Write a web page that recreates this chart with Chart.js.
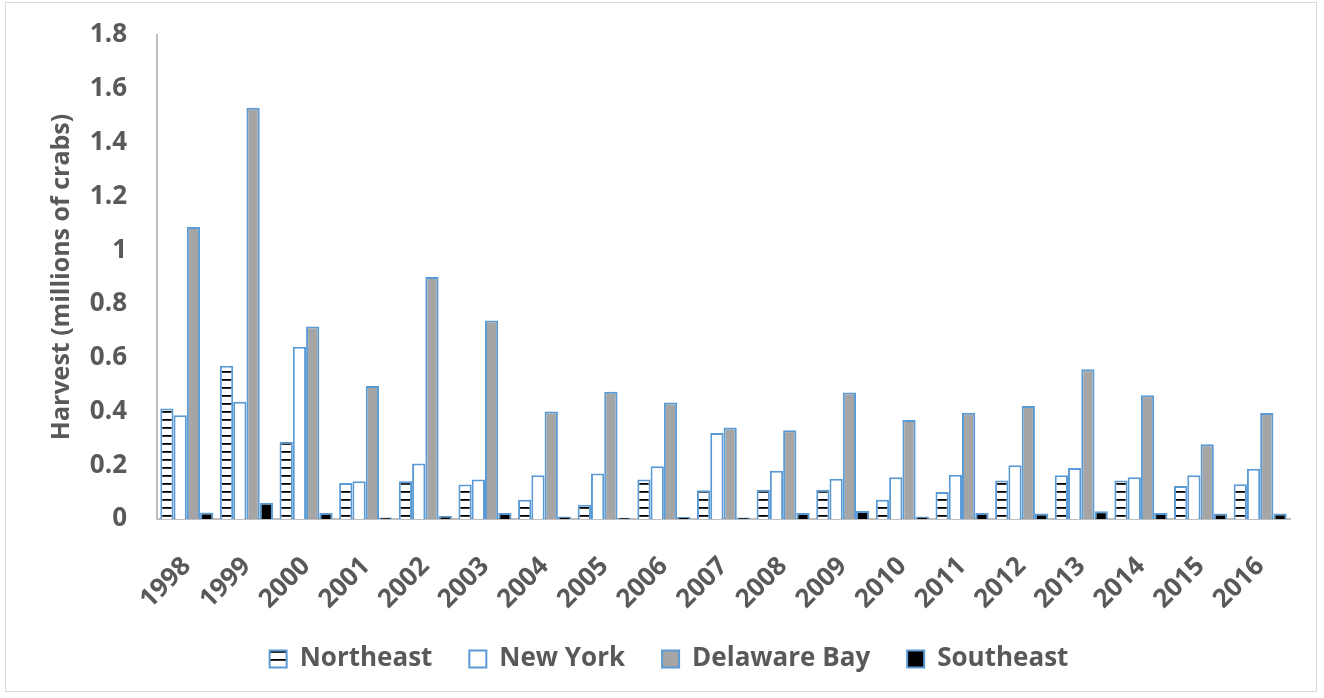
<!DOCTYPE html>
<html>
<head>
<meta charset="utf-8">
<script src="https://cdn.jsdelivr.net/npm/chart.js@4"></script>
<style>
  body { margin: 0; background: #fff; }
  #frame { position: absolute; left: 5px; top: 2px; width: 1310px; height: 688px; border: 1px solid #d9d9d9; }
  #wrap { position: absolute; left: 0; top: 0; width: 1324px; height: 698px; }
</style>
</head>
<body>
<div id="frame"></div>
<div id="wrap"><canvas id="harvest" width="1324" height="698"></canvas></div>
<script>
var years = ["1998", "1999", "2000", "2001", "2002", "2003", "2004", "2005", "2006", "2007",
  "2008", "2009", "2010", "2011", "2012", "2013", "2014", "2015", "2016"];
var northeast = [0.411, 0.570, 0.287, 0.134, 0.140, 0.128, 0.072, 0.053, 0.147, 0.107,
  0.109, 0.109, 0.072, 0.100, 0.143, 0.163, 0.143, 0.123, 0.129];
var newYork = [0.386, 0.436, 0.641, 0.140, 0.206, 0.147, 0.163, 0.169, 0.196, 0.320,
  0.179, 0.150, 0.155, 0.165, 0.200, 0.190, 0.155, 0.163, 0.187];
var delawareBay = [1.086, 1.529, 0.716, 0.495, 0.900, 0.738, 0.400, 0.473, 0.433, 0.340,
  0.330, 0.470, 0.368, 0.395, 0.420, 0.557, 0.460, 0.278, 0.394];
var southeast = [0.024, 0.060, 0.022, 0.006, 0.011, 0.022, 0.009, 0.005, 0.007, 0.006,
  0.022, 0.030, 0.009, 0.022, 0.020, 0.029, 0.022, 0.020, 0.020];

var azul = "#5B9BD5";
var gris = "#595959";
var fuente = "'Open Sans'";

// rayas horizontales para Northeast
function rayas() {
  var c = document.createElement("canvas");
  c.width = 8;
  c.height = 8;
  var g = c.getContext("2d");
  g.fillStyle = "#ffffff";
  g.fillRect(0, 0, 8, 8);
  g.fillStyle = "#000000";
  g.fillRect(0, 3, 8, 1.8);
  return document.getElementById("harvest").getContext("2d").createPattern(c, "repeat");
}

// leyenda un poco a la derecha, y que las etiquetas del eje x no se corten
var ajustes = {
  id: "ajustes",
  afterLayout: function (chart) {
    chart.legend.left += 24;
    chart.legend.right += 24;
    chart.scales.x.bottom = chart.height;
  },
};

var ctx = document.getElementById("harvest").getContext("2d");
var chart = new Chart(ctx, {
  type: "bar",
  data: {
    labels: years,
    datasets: [
      { label: "Northeast", data: northeast, backgroundColor: rayas(), borderColor: azul, borderWidth: 2 },
      { label: "New York", data: newYork, backgroundColor: "#ffffff", borderColor: azul, borderWidth: 2 },
      { label: "Delaware Bay", data: delawareBay, backgroundColor: "#A5A5A5", borderColor: azul, borderWidth: 2 },
      { label: "Southeast", data: southeast, backgroundColor: "#000000", borderColor: azul, borderWidth: 2 },
    ],
  },
  options: {
    responsive: false,
    animation: false,
    datasets: { bar: { categoryPercentage: 0.89, barPercentage: 1.0 } },
    layout: { padding: { top: 35, right: 34, left: 0, bottom: 16 } },
    scales: {
      x: {
        grid: { display: false, drawTicks: false },
        border: { display: true, color: "#BFBFBF", width: 2 },
        ticks: {
          color: gris,
          font: { family: fuente, weight: "bold", size: 26 },
          maxRotation: 45,
          minRotation: 45,
          padding: 32,
        },
        afterFit: function (scale) { scale.height = 90; },
      },
      y: {
        min: 0,
        max: 1.8,
        grid: { display: false, drawTicks: false },
        border: { display: true, color: "#BFBFBF", width: 2 },
        ticks: {
          stepSize: 0.2,
          color: gris,
          font: { family: fuente, weight: "bold", size: 26 },
          padding: 30,
          callback: function (v) { return String(+v.toFixed(1)); },
        },
        title: {
          display: true,
          text: "Harvest (millions of crabs)",
          color: gris,
          font: { family: fuente, weight: "bold", size: 25 },
          padding: { top: 47, bottom: 0 },
        },
        afterFit: function (scale) {
          scale.width = 157;
          scale.paddingTop = 0;
          scale.paddingBottom = 0;
        },
      },
    },
    plugins: {
      tooltip: { enabled: false },
      legend: {
        position: "bottom",
        labels: {
          color: gris,
          font: { family: fuente, weight: "bold", size: 26 },
          boxWidth: 17,
          boxHeight: 17,
          padding: 37,
        },
      },
    },
  },
  plugins: [ajustes],
});
</script>
</body>
</html>
